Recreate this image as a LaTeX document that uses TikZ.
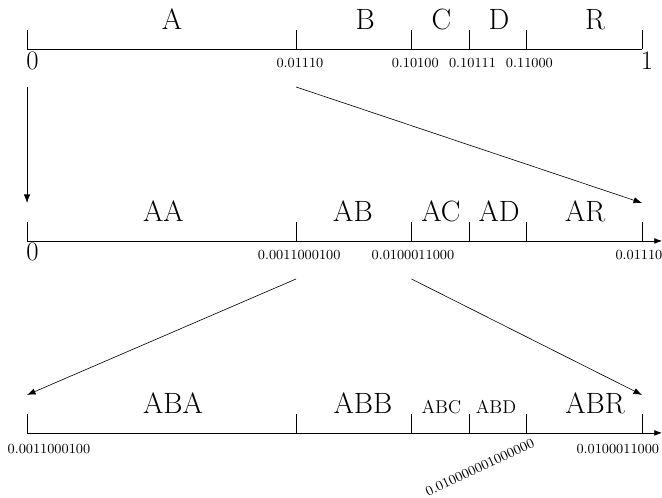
\documentclass[tikz,border=0pt]{standalone}
\usepackage{tikz}
\usetikzlibrary{arrows.meta}
\usetikzlibrary{positioning}

\begin{document}
\begin{tikzpicture}[
  x=0.875cm, y=1cm,
  big/.style={font=\fontsize{19}{23}\selectfont, anchor=base, inner sep=0pt},
  mid/.style={font=\large, anchor=base, inner sep=0pt},
  val/.style={font=\small, inner sep=0pt},
  bound/.style={font=\LARGE, inner sep=0pt},
  axis/.style={-{Latex[length=5pt]}},
  zoomarrow/.style={-{Latex[length=5.5pt]}}
]
\useasboundingbox (-0.703,1.115) rectangle (16.52,-10.22);

% first interval [0,1)
\draw (0,0) -- (16,0);
\foreach \x in {0,7,10,11.5,13,16}
  \draw (\x,0) -- (\x,0.43);
\node[big] (a) at (3.77,0.45) {A};
\node[big] (b) at (8.8,0.45) {B};
\node[big] (c) at (10.78,0.45) {C};
\node[big] (d) at (12.28,0.45) {D};
\node[big] (r) at (14.78,0.45) {R};
\node[bound] (zero1) at (0.14,-0.26) {0};
\node[bound] (one1) at (16.13,-0.26) {1};
\node[val] (v11) at (7.1,-0.32) {0.01110};
\node[val] (v12) at (10.1,-0.32) {0.10100};
\node[val] (v13) at (11.59,-0.32) {0.10111};
\node[val] (v14) at (13.07,-0.32) {0.11000};

% second interval, inside A
\draw[axis] (0,-4.37) -- (16.52,-4.37);
\foreach \x in {0,7,10,11.5,13,16}
  \draw (\x,-4.37) -- (\x,-3.94);
\node[big] (aa) at (3.55,-3.92) {AA};
\node[big] (ab) at (8.48,-3.92) {AB};
\node[big] (ac) at (10.77,-3.92) {AC};
\node[big] (ad) at (12.28,-3.92) {AD};
\node[big] (ar) at (14.52,-3.92) {AR};
\node[bound] (zero2) at (0.14,-4.63) {0};
\node[val] (v21) at (7.08,-4.70) {0.0011000100};
\node[val] (v22) at (10.04,-4.70) {0.0100011000};
\node[val] (v23) at (15.92,-4.70) {0.01110};

% third interval, inside AB
\draw[axis] (0,-8.74) -- (16.52,-8.74);
\foreach \x in {0,7,10,11.5,13,16}
  \draw (\x,-8.74) -- (\x,-8.31);
\node[big] (aba) at (3.8,-8.30) {ABA};
\node[big] (abb) at (8.74,-8.30) {ABB};
\node[mid] (abc) at (10.78,-8.30) {ABC};
\node[mid] (abd) at (12.2,-8.30) {ABD};
\node[big] (abr) at (14.78,-8.30) {ABR};
\node[val] (v31) at (0.57,-9.10) {0.0011000100};
\node[val] (v32) at (15.37,-9.10) {0.0100011000};
\node[val, rotate=25] (v33) at (11.78,-9.525) {0.010000001000000};

% zoom arrows
\coordinate (s1) at (0,-0.865);
\coordinate (e1) at (0,-3.505);
\coordinate (s2) at (7,-0.865);
\coordinate (e2) at (16,-3.505);
\coordinate (s3) at (7,-5.235);
\coordinate (e3) at (0,-7.875);
\coordinate (s4) at (10,-5.235);
\coordinate (e4) at (16,-7.875);
\draw[zoomarrow] (s1) -- (e1);
\draw[zoomarrow] (s2) -- (e2);
\draw[zoomarrow] (s3) -- (e3);
\draw[zoomarrow] (s4) -- (e4);
\end{tikzpicture}
\end{document}
